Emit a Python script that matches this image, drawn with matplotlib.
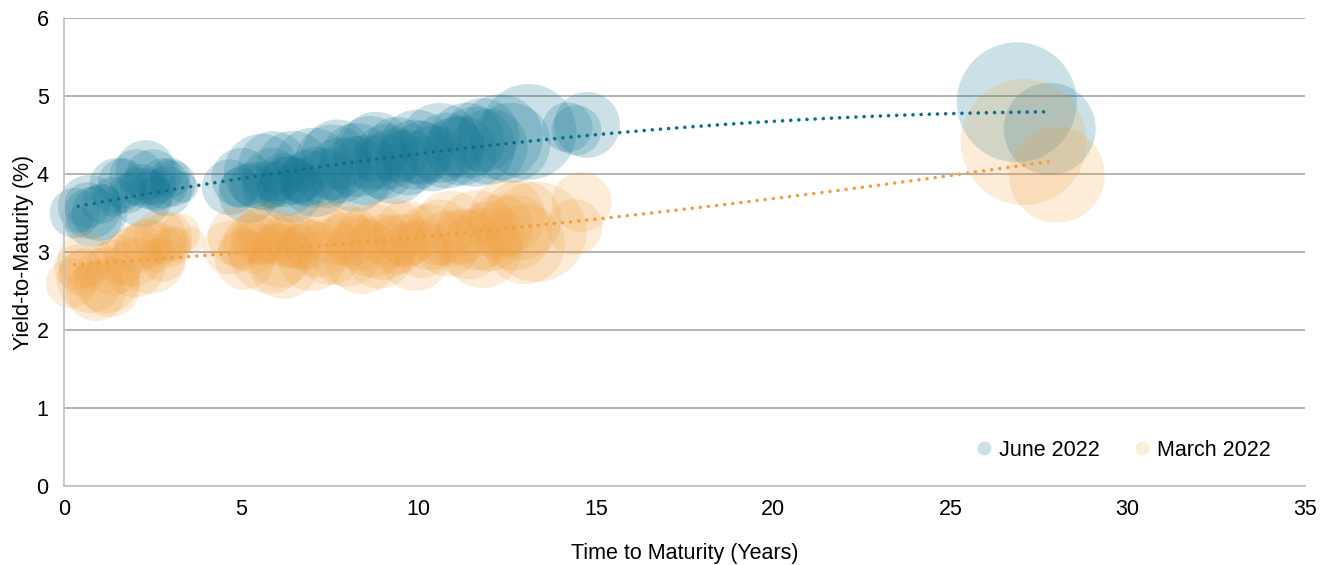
import matplotlib

matplotlib.use("Agg")
import matplotlib.pyplot as plt
import numpy as np
from matplotlib.lines import Line2D

plt.rcParams["font.family"] = ["Liberation Sans", "DejaVu Sans"]

# June 2022: maturity (years), YTM (%), relative bubble size
june_x = [0.45, 0.65, 0.73, 1.05, 1.38, 1.66, 2.06, 2.2, 2.42, 2.51,
          2.8, 2.8, 3.07, 3.35, 0.3, 1.0, 1.8, 2.3, 2.6, 3.0,
          0.8, 1.5, 2.2, 2.9,
          4.68, 4.95, 5.33, 5.58, 5.86, 6.0, 6.17, 6.46, 6.65, 6.7,
          7.02, 7.58, 8.26, 8.63, 9.1, 9.39, 9.95,
          5.2, 5.7, 6.3, 6.9, 7.4, 7.8, 8.5, 9.0, 9.7,
          5.0, 5.9, 6.4, 7.1, 7.7, 8.2, 8.8, 9.3, 9.9,
          10.1, 10.6, 11.0, 11.35, 11.8, 12.3, 13.1, 14.2, 14.45, 14.75,
          10.4, 11.2, 12.0, 10.8, 11.6, 12.6,
          26.87, 27.8]
june_y = [3.41, 3.6, 3.58, 3.62, 3.71, 3.88, 3.96, 3.85, 3.8, 3.96,
          3.88, 3.88, 3.88, 3.83, 3.5, 3.5, 3.75, 4.05, 3.75, 3.95,
          3.45, 3.85, 3.7, 3.78,
          3.83, 3.83, 3.86, 4.03, 3.95, 3.95, 3.92, 4.08, 3.92, 3.95,
          4.08, 4.15, 4.18, 4.27, 4.22, 4.31, 4.35,
          3.75, 3.85, 3.85, 3.95, 3.95, 4.05, 4.05, 4.1, 4.15,
          3.95, 4.1, 3.8, 3.9, 4.25, 4.0, 4.35, 4.1, 4.25,
          4.27, 4.4, 4.35, 4.43, 4.5, 4.47, 4.54, 4.6, 4.56, 4.63,
          4.2, 4.3, 4.35, 4.3, 4.35, 4.4,
          4.92, 4.58]
june_size = [1.7, 5.3, 10.2, 4.0, 4.0, 6.3, 7.8, 4.8, 4.0, 7.8,
             6.3, 1.7, 5.3, 2.3, 6.3, 7.8, 4.0, 9.0, 3.2, 4.0,
             9.0, 7.8, 9.0, 6.3,
             7.8, 4.0, 5.3, 14.4, 9.0, 2.9, 7.3, 13.7, 5.3, 2.3,
             16.0, 14.4, 13.7, 13.7, 10.9, 10.9, 13.7,
             9.0, 6.3, 9.0, 7.8, 9.0, 10.9, 12.3, 10.9, 10.9,
             9.0, 12.3, 10.9, 12.3, 12.3, 14.4, 12.3, 14.4, 12.3,
             10.2, 16.0, 9.0, 14.4, 13.7, 18.5, 23.0, 6.3, 6.3, 10.9,
             10.9, 12.3, 14.4, 14.4, 16.0, 16.0,
             36.0, 21.2]

# March 2022
march_x = [0.37, 0.5, 0.5, 0.73, 1.2, 1.58, 1.95, 2.34, 2.42, 2.6,
           2.7, 2.99, 3.27, 3.6, 0.2, 0.9, 1.4, 2.1, 2.8, 3.1,
           0.6, 1.3, 2.0, 2.9,
           4.68, 5.0, 5.33, 5.6, 5.8, 6.0, 6.28, 6.65, 6.9, 7.2,
           7.97, 8.3, 8.7, 9.0, 9.67, 9.67,
           5.1, 5.5, 6.1, 6.5, 7.5, 8.1, 8.9, 9.4,
           4.9, 5.7, 6.2, 7.0, 7.7, 8.4, 9.2, 9.9,
           10.3, 10.83, 11.2, 11.64, 12.3, 12.9, 13.33, 14.4, 14.6,
           10.1, 10.6, 11.4, 12.0, 12.7, 10.9, 11.8, 12.5, 13.0,
           27.07, 28.0]
march_y = [2.8, 2.73, 2.73, 2.64, 2.64, 2.9, 2.94, 3.11, 2.94, 2.95,
           3.19, 3.06, 3.24, 3.15, 2.6, 2.5, 2.8, 3.05, 2.9, 3.1,
           2.9, 2.55, 2.8, 3.2,
           3.06, 3.05, 3.11, 3.08, 2.98, 3.1, 3.15, 3.06, 3.1, 3.15,
           3.03, 3.12, 3.15, 3.06, 3.24, 3.15,
           2.9, 3.2, 2.95, 3.15, 3.0, 3.2, 2.98, 3.1,
           3.2, 3.25, 2.85, 2.95, 3.25, 2.95, 3.25, 2.95,
           3.19, 3.11, 3.2, 3.28, 3.32, 3.41, 3.26, 3.32, 3.64,
           3.05, 3.25, 3.1, 3.2, 3.25, 3.3, 3.05, 3.45, 3.1,
           4.41, 3.99]
march_size = [5.3, 0.6, 5.3, 10.9, 10.9, 6.3, 9.0, 6.3, 13.7, 2.9,
              7.3, 4.0, 4.0, 1.7, 6.3, 9.0, 7.8, 6.3, 4.8, 3.2,
              7.8, 9.0, 9.0, 6.3,
              7.3, 4.8, 9.0, 4.0, 16.0, 4.8, 7.3, 5.3, 6.3, 13.7,
              13.7, 7.8, 13.7, 10.9, 10.9, 7.3,
              9.0, 7.8, 10.2, 7.8, 10.9, 9.0, 12.3, 9.0,
              9.0, 9.0, 12.3, 12.3, 10.9, 14.4, 12.3, 12.3,
              10.9, 10.9, 7.8, 16.0, 10.9, 16.0, 25.0, 7.8, 9.0,
              9.0, 10.9, 12.3, 12.3, 14.4, 14.4, 16.0, 14.4, 16.0,
              39.7, 23.0]

series = [
    ("June 2022", june_x, june_y, june_size, "#167896", 0.22, "#0b6f8c"),
    ("March 2022", march_x, march_y, march_size, "#f0a040", 0.20, "#f0a040"),
]

fig = plt.figure(figsize=(13.3, 5.65), dpi=100)
ax = fig.add_axes([0.0481, 0.1398, 0.9331, 0.8283])

handles = []
for name, xs, ys, sz, face, alpha, trend in series:
    ax.scatter(xs, ys, s=np.array(sz) * 207, color=face, alpha=alpha,
               linewidths=0, clip_on=False, zorder=2)
    # polynomial (order 2) trendline, as in the source workbook
    coef = np.polyfit(xs, ys, 2)
    tx = np.linspace(min(xs) + 0.1, max(xs) - 0.1, 200)
    ax.plot(tx, np.polyval(coef, tx), color=trend, linewidth=2.6,
            linestyle=(0, (0.01, 2.25)), dash_capstyle="round", zorder=4)
    handles.append(Line2D([], [], marker="o", linestyle="none",
                          markersize=10, markerfacecolor=face,
                          markeredgewidth=0, alpha=alpha, label=name))

ax.set_xlim(0, 35)
ax.set_ylim(0, 6)
ax.set_xticks(range(0, 36, 5))
ax.set_yticks(range(0, 7))
ax.grid(axis="y", color="#a6a6a6", linewidth=1.2, zorder=0)
ax.set_axisbelow(True)
for side in ("top", "right"):
    ax.spines[side].set_visible(False)
for side in ("left", "bottom"):
    ax.spines[side].set_color("#bfbfbf")
    ax.spines[side].set_linewidth(1.2)
ax.tick_params(length=0, labelsize=15.5, colors="#000000")
ax.tick_params(axis="x", pad=9)
ax.tick_params(axis="y", pad=11)
ax.set_xlabel("Time to Maturity (Years)", fontsize=15.5, labelpad=17)
ax.set_ylabel("Yield-to-Maturity (%)", fontsize=15.5, labelpad=2)

ax.legend(handles=handles, loc="lower right", ncol=2, frameon=False,
          fontsize=15.5, handletextpad=0.1, columnspacing=1.35,
          handlelength=1.2, bbox_to_anchor=(0.988, 0.012))

fig.savefig("out.png", dpi=100, facecolor="white")
